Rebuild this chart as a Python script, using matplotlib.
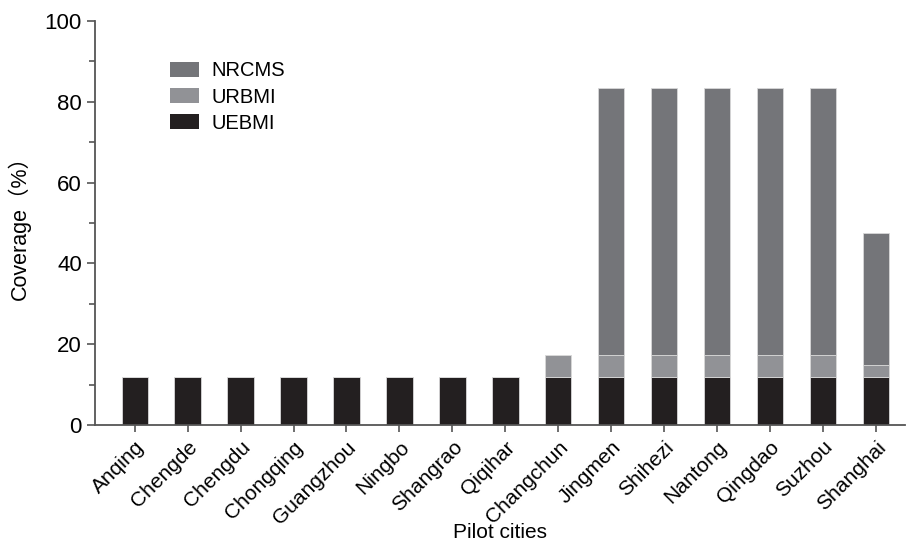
import numpy as np
import matplotlib
matplotlib.use("Agg")
import matplotlib.pyplot as plt
from matplotlib.ticker import MultipleLocator

plt.rcParams['font.family'] = ['Liberation Sans', 'Noto Sans CJK SC', 'DejaVu Sans']

cities = ['Anqing', 'Chengde', 'Chengdu', 'Chongqing', 'Guangzhou', 'Ningbo',
          'Shangrao', 'Qiqihar', 'Changchun', 'Jingmen', 'Shihezi', 'Nantong',
          'Qingdao', 'Suzhou', 'Shanghai']
uebmi = [11.9, 11.9, 11.9, 11.9, 11.9, 11.9, 11.9, 11.9, 11.9, 11.9, 11.9, 11.9, 11.9, 11.9, 11.9]
urbmi = [0, 0, 0, 0, 0, 0, 0, 0, 5.5, 5.5, 5.5, 5.5, 5.5, 5.5, 3.0]
nrcms = [0, 0, 0, 0, 0, 0, 0, 0, 0, 66.0, 66.0, 66.0, 66.0, 66.0, 32.6]

c_ue = '#231f20'
c_ur = '#919296'
c_nr = '#747579'
spine_col = '#555555'

fig = plt.figure(figsize=(9.06, 5.45), dpi=100)
ax = fig.add_axes([0.1049, 0.2202, 0.894, 0.7413])

x = np.arange(len(cities))
ue = np.array(uebmi)
ur = np.array(urbmi)
nr = np.array(nrcms)
w = 0.5
ax.bar(x, ue, w, color=c_ue, edgecolor='#d8d8d8', linewidth=0.6, label='UEBMI')
ax.bar(x, ur, w, bottom=ue, color=c_ur, edgecolor='#d8d8d8', linewidth=0.6, label='URBMI')
ax.bar(x, nr, w, bottom=ue + ur, color=c_nr, edgecolor='#d8d8d8', linewidth=0.6, label='NRCMS')

ax.set_xlim(-0.75, 14.55)
ax.set_ylim(0, 100)
ax.yaxis.set_major_locator(MultipleLocator(20))
ax.yaxis.set_minor_locator(MultipleLocator(10))
ax.set_xticks(x)
ax.set_xticklabels(cities, rotation=45, ha='right', rotation_mode='anchor', fontsize=15)
ax.tick_params(axis='y', labelsize=16, length=6, width=1.2, color=spine_col)
ax.tick_params(axis='y', which='minor', length=4, width=1.2, color=spine_col)
ax.tick_params(axis='x', length=5, width=1.2, color=spine_col, pad=4)

for s in ['top', 'right']:
    ax.spines[s].set_visible(False)
for s in ['left', 'bottom']:
    ax.spines[s].set_color(spine_col)
    ax.spines[s].set_linewidth(1.3)

ax.set_ylabel('Coverage（%）', fontsize=15.5, labelpad=10)
ax.set_xlabel('Pilot cities', fontsize=15)
ax.xaxis.set_label_coords(0.5, -0.243)

handles, labels = ax.get_legend_handles_labels()
leg = ax.legend(handles[::-1], labels[::-1], loc='upper left',
                bbox_to_anchor=(0.07, 0.945), frameon=False, fontsize=14.5,
                handlelength=1.45, handleheight=0.75, labelspacing=0.36,
                handletextpad=0.6)
for p in leg.get_patches():
    p.set_edgecolor('none')

fig.savefig('out.png', dpi=100)
